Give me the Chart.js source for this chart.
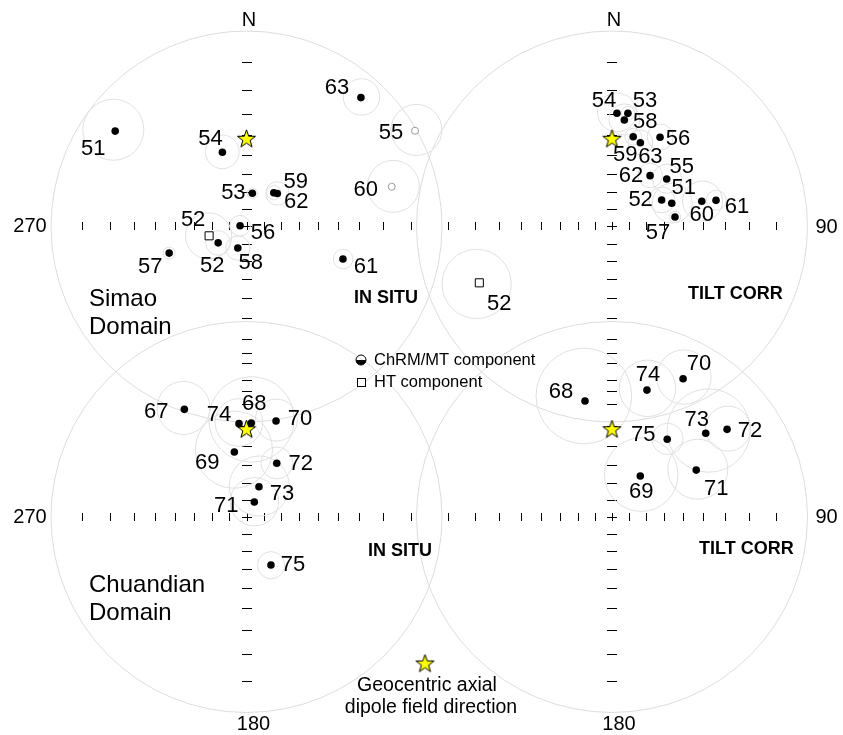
<!DOCTYPE html>
<html>
<head>
<meta charset="utf-8">
<script src="https://cdn.jsdelivr.net/npm/chart.js@4.4.1/dist/chart.umd.min.js"></script>
<style>
  html, body { margin: 0; padding: 0; background: #fff; }
  #wrap { position: relative; width: 843px; height: 735px; }
</style>
</head>
<body>
<div id="wrap"><canvas id="net" width="843" height="735"></canvas></div>
<script>
// Simao domain, ChRM/MT component (declination / inclination, degrees)
const simaoSites = ['51', '52', '53', '54', '55', '56', '57', '58', '59', '60', '61', '62', '63'];
const simaoInSituDec = [306, 240, 10, 342, 60.4, 277, 251, 202, 39, 74.7, 108.6, 43, 41.6];
const simaoInSituInc = [10.6, 71, 70.4, 46.5, -0.5, 86.2, 44.6, 76.5, 65, -14.8, 35, 64, 7.2];
const simaoTiltDec = [68.8, 61.9, 8, 2.5, 49, 28.3, 81.4, 6.6, 13.3, 74.3, 75.9, 36.8, 18.7];
const simaoTiltInc = [53.7, 57.9, 29.4, 29.8, 49.3, 35.2, 53.9, 32.5, 39.5, 39, 32.5, 54, 41.3];
const simaoA95 = [10.5, 7, 3, 8.5, 7.5, 6, 3, 7, 4, 9.5, 4.5, 6.5, 6];

// Simao domain, HT component (site 52 only)
const htSites = ['52'];
const htInSituDec = [256];
const htInSituInc = [67.7];
const htTiltDec = [247];
const htTiltInc = [17.2];
const htA95 = [13];

// Chuandian domain, ChRM/MT component
const chuanSites = ['67', '68', '69', '70', '71', '72', '73', '74', '75'];
const chuanInSituDec = [330, 2.9, 349.4, 17.1, 27.5, 29.4, 22.4, 355.4, 153];
const chuanInSituInc = [25.1, 38.6, 52.6, 35.6, 80.1, 55, 71, 38.8, 59.2];
const chuanTiltDec = [null, 346.9, 34.6, 27.2, 60.9, 52.7, 48.2, 15.4, 35.4];
const chuanTiltInc = [null, 27.3, 61.4, 13, 37.5, 17, 24.5, 22.1, 38];
const chuanA95 = [11, 20, 20, 9.7, 14, 8.5, 17, 11.3, 7.4];

// Geocentric axial dipole field direction
const gadDec = 0;
const gadInc = 41.4;

// inclination ticks on the axes
const tickIncs = [10, 20, 30, 40, 50, 60, 70, 80];

// ---- layout (not data) ----
const R = 195.5;
const nets = {
  simaoInSitu: { cx: 246.5, cy: 226.5 },
  simaoTilt:   { cx: 612,   cy: 226.5 },
  chuanInSitu: { cx: 246.5, cy: 517 },
  chuanTilt:   { cx: 612,   cy: 517 }
};

// label centre offsets from the symbol, in pixels
const simaoInSituOff = [[-22, 18], [-6, 23], [-19, 0], [-12, -13], [-24, 2], [23, 7], [-19, 14], [13, 15], [22, -11], [-26, 3], [23, 8], [19, 8], [-24, -10]];
const simaoTiltOff = [[12, -15], [-21, 0], [17, -12], [-13, -12], [15, -12], [18, 2], [-17, 16], [21, 2], [-8, 18], [0, 14], [21, 7], [-19, 0], [10, 14]];
const htInSituOff = [[-16, -16]];
const htTiltOff = [[20, 21]];
const chuanInSituOff = [[-28, 3], [3, -19], [-27, 11], [24, -2], [-28, 4], [24, 1], [23, 7], [-20, -9], [22, 0]];
const chuanTiltOff = [null, [-24, -9], [1, 16], [16, -15], [20, 19], [23, 2], [-9, -13], [1, -15], [-24, -4]];

const FONT = '"Liberation Sans", Arial, sans-serif';
const rad = d => d * Math.PI / 180;

// Wulff (equal-angle) projection
function project(net, dec, inc) {
  const r = R * Math.tan(rad(90 - Math.abs(inc)) / 2);
  return { x: net.cx + r * Math.sin(rad(dec)), y: net.cy - r * Math.cos(rad(dec)) };
}

// a95 cone is a true circle in the Wulff net
function cone(net, dec, inc, a95) {
  const th = 90 - Math.abs(inc);
  const r1 = Math.tan(rad(th - a95) / 2);
  const r2 = Math.tan(rad(th + a95) / 2);
  const mid = R * (r1 + r2) / 2;
  return { x: net.cx + mid * Math.sin(rad(dec)), y: net.cy - mid * Math.cos(rad(dec)), r: R * (r2 - r1) / 2 };
}

const lower = [], upper = [], squares = [], stars = [];

function addGroup(net, sites, decs, incs, a95s, offs, target) {
  sites.forEach((s, i) => {
    if (decs[i] == null) return;
    const p = project(net, decs[i], incs[i]);
    const pt = { x: p.x, y: p.y, label: s, off: offs[i], cone: cone(net, decs[i], incs[i], a95s[i]) };
    if (target) target.push(pt);
    else (incs[i] >= 0 ? lower : upper).push(pt);
  });
}

addGroup(nets.simaoInSitu, simaoSites, simaoInSituDec, simaoInSituInc, simaoA95, simaoInSituOff);
addGroup(nets.simaoTilt, simaoSites, simaoTiltDec, simaoTiltInc, simaoA95, simaoTiltOff);
addGroup(nets.simaoInSitu, htSites, htInSituDec, htInSituInc, htA95, htInSituOff, squares);
addGroup(nets.simaoTilt, htSites, htTiltDec, htTiltInc, htA95, htTiltOff, squares);
addGroup(nets.chuanInSitu, chuanSites, chuanInSituDec, chuanInSituInc, chuanA95, chuanInSituOff);
addGroup(nets.chuanTilt, chuanSites, chuanTiltDec, chuanTiltInc, chuanA95, chuanTiltOff);
Object.values(nets).forEach(n => stars.push(project(n, gadDec, gadInc)));

function makeStar(outer) {
  const c = document.createElement('canvas');
  const s = Math.ceil(outer * 2 + 4);
  c.width = s; c.height = s;
  const g = c.getContext('2d');
  g.beginPath();
  for (let i = 0; i < 10; i++) {
    const rr = i % 2 ? outer * 0.4 : outer;
    const a = -Math.PI / 2 + i * Math.PI / 5;
    g.lineTo(s / 2 + rr * Math.cos(a), s / 2 + 1 + rr * Math.sin(a));
  }
  g.closePath();
  g.fillStyle = '#ffff00';
  g.fill();
  g.lineWidth = 1;
  g.strokeStyle = '#000';
  g.stroke();
  return c;
}
const starImg = makeStar(9.5);

const stereoPlugin = {
  id: 'stereo',
  beforeDatasetsDraw(chart) {
    const ctx = chart.ctx, sx = chart.scales.x, sy = chart.scales.y;
    const len = r => Math.abs(sx.getPixelForValue(r) - sx.getPixelForValue(0));
    ctx.save();
    // primitive circles
    ctx.strokeStyle = '#dcdcdc';
    ctx.lineWidth = 1;
    Object.values(nets).forEach(n => {
      ctx.beginPath();
      ctx.arc(sx.getPixelForValue(n.cx), sy.getPixelForValue(n.cy), len(R), 0, 2 * Math.PI);
      ctx.stroke();
    });
    // axis ticks
    ctx.strokeStyle = '#000';
    Object.values(nets).forEach(n => {
      const cx = sx.getPixelForValue(n.cx), cy = sy.getPixelForValue(n.cy);
      const offs = [0].concat(tickIncs.map(I => len(R * Math.tan(rad(90 - I) / 2))));
      ctx.beginPath();
      offs.forEach(o => {
        [-1, 1].forEach(sg => {
          const x = Math.round(cx + sg * o) + 0.5, y = Math.round(cy + sg * o) + 0.5;
          ctx.moveTo(x, Math.round(cy) - 4); ctx.lineTo(x, Math.round(cy) + 4);
          ctx.moveTo(Math.round(cx) - 5, y); ctx.lineTo(Math.round(cx) + 5, y);
        });
      });
      ctx.stroke();
    });
    // a95 cones
    ctx.strokeStyle = '#e0e0e0';
    lower.concat(upper, squares).forEach(p => {
      ctx.beginPath();
      ctx.arc(sx.getPixelForValue(p.cone.x), sy.getPixelForValue(p.cone.y), len(p.cone.r), 0, 2 * Math.PI);
      ctx.stroke();
    });
    ctx.restore();
  },
  afterDatasetsDraw(chart) {
    const ctx = chart.ctx, sx = chart.scales.x, sy = chart.scales.y;
    ctx.save();
    ctx.fillStyle = '#000';
    ctx.textBaseline = 'middle';
    ctx.textAlign = 'center';
    // site labels
    ctx.font = '22px ' + FONT;
    lower.concat(upper, squares).forEach(p => {
      if (!p.off) return;
      ctx.fillText(p.label, sx.getPixelForValue(p.x) + p.off[0], sy.getPixelForValue(p.y) + p.off[1]);
    });
    // direction labels
    ctx.font = '20px ' + FONT;
    const txt = (t, x, y) => ctx.fillText(t, sx.getPixelForValue(x), sy.getPixelForValue(y));
    txt('N', nets.simaoInSitu.cx + 2.5, nets.simaoInSitu.cy - 206.5);
    txt('N', nets.simaoTilt.cx + 2, nets.simaoTilt.cy - 206.5);
    txt('180', nets.chuanInSitu.cx + 7, nets.chuanInSitu.cy + 207);
    txt('180', nets.chuanTilt.cx + 7, nets.chuanTilt.cy + 207);
    txt('270', nets.simaoInSitu.cx - 216.5, nets.simaoInSitu.cy);
    txt('270', nets.chuanInSitu.cx - 216.5, nets.chuanInSitu.cy);
    txt('90', nets.simaoTilt.cx + 214.5, nets.simaoTilt.cy + 1);
    txt('90', nets.chuanTilt.cx + 214.5, nets.chuanTilt.cy);
    // domain names
    ctx.textAlign = 'left';
    ctx.font = '24px ' + FONT;
    txt('Simao', 89, 299);
    txt('Domain', 89, 327);
    txt('Chuandian', 89, 585);
    txt('Domain', 89, 613);
    ctx.font = 'bold 18px ' + FONT;
    txt('IN SITU', 354, 298);
    txt('IN SITU', 368, 551);
    txt('TILT CORR', 688, 294);
    txt('TILT CORR', 699, 549);
    // legend
    ctx.font = '16.5px ' + FONT;
    txt('ChRM/MT component', 374, 360);
    txt('HT component', 374, 382);
    const lx = sx.getPixelForValue(361), ly = sy.getPixelForValue(360);
    ctx.beginPath();
    ctx.arc(lx, ly, 5, 0, Math.PI);
    ctx.closePath();
    ctx.fill();
    ctx.beginPath();
    ctx.arc(lx, ly, 5, 0, 2 * Math.PI);
    ctx.strokeStyle = '#000';
    ctx.lineWidth = 1;
    ctx.stroke();
    ctx.fillStyle = '#fff';
    ctx.fillRect(sx.getPixelForValue(357) + 0.5, sy.getPixelForValue(378) + 0.5, 8, 8);
    ctx.strokeRect(sx.getPixelForValue(357) + 0.5, sy.getPixelForValue(378) + 0.5, 8, 8);
    ctx.fillStyle = '#000';
    ctx.drawImage(starImg, sx.getPixelForValue(425) - starImg.width / 2, sy.getPixelForValue(663) - starImg.height / 2);
    ctx.textAlign = 'center';
    ctx.font = '19.5px ' + FONT;
    txt('Geocentric axial', 427, 686);
    txt('dipole field direction', 431, 708);
    ctx.restore();
  }
};

new Chart(document.getElementById('net'), {
  type: 'scatter',
  data: {
    datasets: [
      { label: 'lower', data: lower, pointRadius: 3.8, backgroundColor: '#000', borderWidth: 0 },
      { label: 'upper', data: upper, pointRadius: 3.5, backgroundColor: '#fff', borderColor: '#9a9a9a', borderWidth: 1 },
      { label: 'HT', data: squares, pointStyle: 'rect', pointRadius: 5.7, backgroundColor: '#fff', borderColor: '#000', borderWidth: 1 },
      { label: 'GAD', data: stars, pointStyle: starImg }
    ]
  },
  options: {
    responsive: false,
    animation: false,
    events: [],
    layout: { padding: 0, autoPadding: false },
    plugins: { legend: { display: false }, tooltip: { enabled: false } },
    scales: {
      x: { type: 'linear', min: 0, max: 843, display: false },
      y: { type: 'linear', min: 0, max: 735, reverse: true, display: false }
    }
  },
  plugins: [stereoPlugin]
});
</script>
</body>
</html>
